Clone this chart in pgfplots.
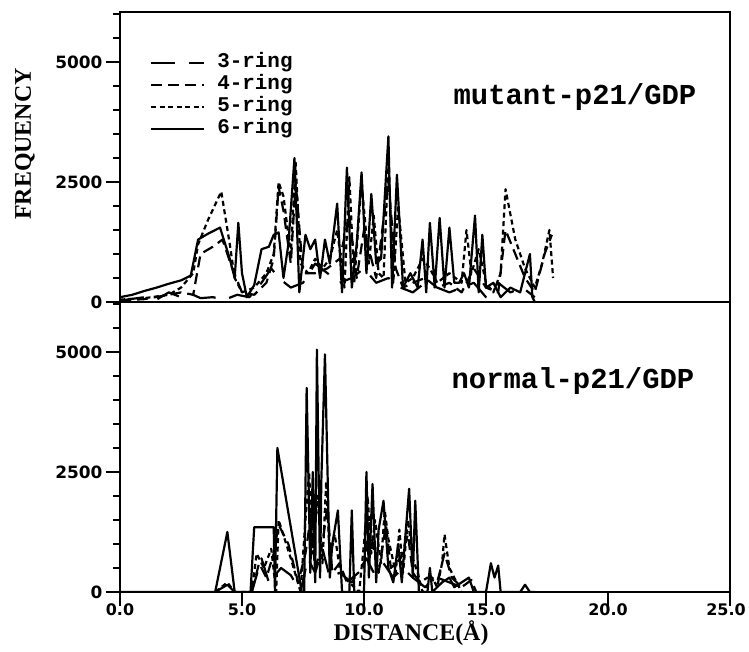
\documentclass[border=0pt]{standalone}
\usepackage{fontspec}
\setmainfont{Liberation Serif}
\newfontfamily\ticksf{DejaVu Sans}
\newfontfamily\plotter{Liberation Mono}
\usepackage{pgfplots}
\pgfplotsset{compat=1.18}

% line styles of the four ring sizes
\tikzset{
  r3/.style={black, line width=2.2bp, line join=round, dash pattern=on 24bp off 14bp},
  r4/.style={black, line width=2.2bp, line join=round, dash pattern=on 11bp off 6bp},
  r5/.style={black, line width=2.2bp, line join=round, dash pattern=on 5bp off 3.5bp},
  r6/.style={black, line width=2.2bp, line join=round},
}

\pgfplotsset{
  panel/.style={
    scale only axis, width=610bp, height=290bp,
    xmin=0, xmax=25, ymin=0, ymax=6040,
    axis line style={line width=1.6bp},
    ytick={0,2500,5000}, minor ytick={500,1000,...,6000},
    tick align=outside, major tick length=14bp, minor tick length=7bp,
    every tick/.style={black, line width=1.4bp},
    ytick pos=left, xtick pos=bottom,
    tick label style={font=\ticksf\bfseries\fontsize{17}{17}\selectfont},
    /pgf/number format/assume math mode=true,
    /pgf/number format/1000 sep={},
  }
}

\begin{document}
\begin{tikzpicture}
\useasboundingbox (-120bp,-60bp) rectangle (629bp,592bp);

% ---- mutant (top) ----
\begin{axis}[panel, at={(0,290bp)}, anchor=south west, xtick=\empty,
  legend cell align=left,
  legend image code/.code={\draw[#1] (0bp,0bp) -- (53bp,0bp);},
  legend style={at={(axis description cs:0.049,1)}, anchor=north west,
    yshift=-40bp, draw=none, fill=none, inner sep=0pt, column sep=11bp,
    font=\plotter\bfseries\fontsize{21}{21}\selectfont,
    nodes={inner sep=1bp, text height=14bp, text depth=6bp}},
]
\addplot[r3] coordinates {(0,30)(1,100)(1.5,50)(2,200)(2.5,100)(3,150)(3.3,80)(3.8,100)(4.3,50)(4.8,150)(5.3,100)(5.8,400)(6.2,700)(6.5,500)(7,300)(7.5,400)(8,800)(8.5,600)(9,400)(9.5,500)(10,700)(10.5,400)(11,500)(11.5,300)(12,200)(12.5,400)(13,300)(13.5,200)(14,300)(14.5,400)(15,100)(15.5,400)(16,200)(16.5,300)(17,100)};
\addplot[r4] coordinates {(0,30)(1,60)(2,150)(2.5,200)(3,150)(3.3,1000)(3.8,1150)(4.2,1300)(4.6,700)(5.0,200)(5.5,150)(6.0,400)(6.3,900)(6.5,2400)(6.7,1900)(7.0,800)(7.2,2500)(7.5,600)(8,600)(8.5,700)(9,900)(9.4,1800)(9.7,500)(10,1500)(10.5,500)(11,2500)(11.3,700)(11.6,300)(12,400)(12.5,500)(13,300)(13.5,400)(14,200)(14.5,700)(15,300)(15.5,200)(15.8,1500)(16.2,1000)(16.6,500)(17,200)(17.4,1000)(17.7,1400)};
\addplot[r5] coordinates {(0,50)(1,80)(2,150)(2.5,300)(3,600)(3.2,1200)(3.6,1700)(4.15,2300)(4.5,1200)(4.7,500)(5.0,200)(5.5,300)(6.0,600)(6.3,1000)(6.5,2500)(6.7,2200)(7.0,1000)(7.2,2900)(7.4,800)(7.7,600)(8.0,900)(8.3,700)(8.6,900)(8.9,1500)(9.2,300)(9.4,2600)(9.6,400)(9.9,2500)(10.2,800)(10.4,1800)(10.6,600)(10.8,500)(11.0,3000)(11.2,400)(11.4,2000)(11.7,400)(12.0,500)(12.4,900)(12.7,700)(13.0,400)(13.5,600)(14.0,400)(14.2,1500)(14.4,600)(14.7,1100)(15.0,400)(15.3,200)(15.6,600)(15.8,2350)(16.2,1300)(16.6,700)(17.0,300)(17.3,800)(17.6,1500)(17.75,500)};
\addplot[r6] coordinates {(0,100)(0.5,150)(1,230)(1.5,300)(2,380)(2.5,450)(2.9,550)(3.2,1300)(3.6,1420)(4.1,1550)(4.5,900)(4.7,500)(4.85,1650)(5.0,600)(5.2,100)(5.5,350)(5.8,1100)(6.1,1150)(6.3,1400)(6.5,1450)(6.7,500)(6.9,1200)(7.15,3000)(7.35,200)(7.6,1400)(7.8,1100)(8.0,1300)(8.2,500)(8.4,1300)(8.6,800)(8.9,2050)(9.1,200)(9.3,2800)(9.5,300)(9.7,1200)(9.9,2700)(10.1,600)(10.3,2250)(10.5,800)(10.7,900)(11.0,3450)(11.15,300)(11.35,2650)(11.6,300)(11.9,600)(12.2,300)(12.4,1300)(12.55,200)(12.7,1650)(12.9,300)(13.1,1750)(13.3,300)(13.5,1550)(13.7,400)(13.9,400)(14.1,600)(14.3,300)(14.55,1800)(14.7,200)(14.85,1400)(15.0,300)(15.3,400)(15.6,100)(16.0,300)(16.4,200)(16.8,1000)(16.9,100)(17.0,0)};
\legend{3-ring,4-ring,5-ring,6-ring}
\end{axis}

% ---- normal (bottom) ----
\begin{axis}[panel, at={(0,0)}, anchor=south west,
  xtick={0,5,...,25},
  xticklabels={0.0,5.0,10.0,15.0,20.0,25.0\hspace*{8bp}},
  x tick label style={yshift=6bp, font=\ticksf\bfseries\fontsize{16}{16}\selectfont},
]
\addplot[r3] coordinates {(3.9,0)(4.4,150)(4.7,0)(5.4,0)(5.8,700)(6.1,200)(6.6,500)(7.0,350)(7.4,0)(7.7,700)(8.0,400)(8.3,900)(8.6,300)(9.0,400)(9.5,200)(10.1,700)(10.4,400)(10.8,600)(11.2,300)(11.6,500)(12.0,300)(12.5,100)(13.0,300)(13.5,200)(14.0,100)(14.5,0)};
\addplot[r4] coordinates {(5.4,0)(5.7,600)(6.0,300)(6.3,800)(6.5,1400)(6.9,1000)(7.3,200)(7.6,800)(7.8,1500)(8.0,500)(8.3,1000)(8.5,1800)(8.7,400)(9.0,600)(9.3,200)(10.0,500)(10.2,1500)(10.4,900)(10.6,400)(10.9,1400)(11.1,500)(11.5,700)(11.8,1200)(12.0,400)(12.3,200)(12.6,300)(13.0,200)(13.3,800)(13.6,300)(14.0,100)(14.4,250)(14.6,0)};
\addplot[r5] coordinates {(3.9,0)(4.4,200)(4.7,0)(5.4,0)(5.6,800)(5.9,500)(6.2,900)(6.4,0)(6.5,1500)(7.0,700)(7.4,0)(7.6,1500)(7.75,2500)(7.9,800)(8.1,2000)(8.3,600)(8.45,2300)(8.6,700)(8.8,1200)(9.0,500)(9.2,300)(9.8,0)(10.0,1000)(10.15,2000)(10.3,800)(10.45,1500)(10.7,600)(10.85,1700)(11.0,1100)(11.3,400)(11.45,1300)(11.6,400)(11.8,1500)(12.0,700)(12.2,400)(12.4,0)(12.8,300)(13.0,100)(13.2,600)(13.3,1200)(13.5,500)(13.8,200)(14.0,0)};
\addplot[r6] coordinates {(0,0)(3.9,0)(4.4,1250)(4.7,0)(5.35,0)(5.5,1350)(6.3,1350)(6.35,0)(6.45,3000)(7.45,0)(7.55,0)(7.65,4250)(7.8,400)(7.9,2500)(8.0,200)(8.07,5050)(8.2,300)(8.25,2300)(8.4,4950)(8.6,300)(8.7,1000)(8.93,1700)(9.1,0)(9.4,0)(9.5,1700)(9.6,0)(10.0,0)(10.1,2500)(10.2,300)(10.35,2250)(10.5,200)(10.6,1300)(10.8,1900)(11.0,500)(11.2,200)(11.4,1000)(11.55,200)(11.7,1200)(11.85,2150)(12.0,300)(12.1,1900)(12.25,0)(12.6,0)(12.7,500)(12.8,0)(13.2,200)(13.5,300)(13.7,100)(14.0,200)(14.3,300)(14.5,0)(15.0,0)(15.2,600)(15.35,300)(15.5,550)(15.6,0)(16.4,0)(16.6,150)(16.8,0)(17,0)};
\end{axis}

\node[font=\bfseries\fontsize{24}{24}\selectfont, rotate=90] at (-95bp,448bp) {FREQUENCY};
\node[font=\bfseries\fontsize{24}{24}\selectfont] at (291bp,-41bp) {DISTANCE(Å)};
\node[font=\plotter\bfseries\fontsize{29}{29}\selectfont] at (455bp,495bp) {mutant-p21/GDP};
\node[font=\plotter\bfseries\fontsize{29}{29}\selectfont] at (453bp,211bp) {normal-p21/GDP};
\end{tikzpicture}
\end{document}
